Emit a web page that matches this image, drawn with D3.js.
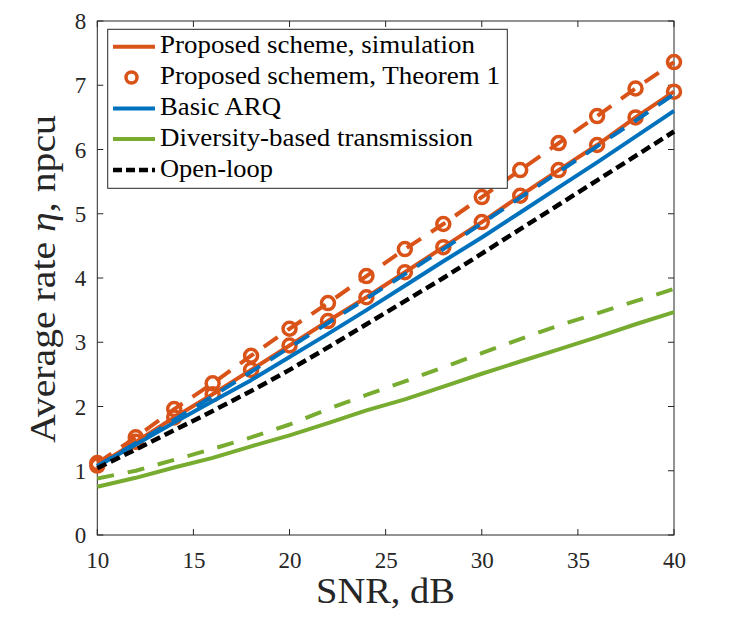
<!DOCTYPE html>
<html><head><meta charset="utf-8">
<script src="https://cdn.jsdelivr.net/npm/d3@7"></script>
<style>html,body{margin:0;padding:0;background:#fff;}svg{display:block;}
svg text{font-family:"Liberation Serif","DejaVu Serif",serif;}</style>
</head><body>
<script>
const snr = [10,12,14,16,18,20,22,24,26,28,30,32,34,36,38,40];
const propSimSolid  = [1.08,1.45,1.83,2.19,2.57,2.95,3.33,3.70,4.09,4.48,4.87,5.28,5.68,6.07,6.50,6.90];
const propSimDashed = [1.12,1.52,1.96,2.36,2.79,3.21,3.61,4.03,4.45,4.84,5.26,5.68,6.10,6.52,6.95,7.36];
const propThSolid   = [1.08,1.45,1.83,2.19,2.57,2.95,3.33,3.70,4.09,4.48,4.87,5.28,5.68,6.07,6.50,6.90];
const propThDashed  = [1.12,1.52,1.96,2.36,2.79,3.21,3.61,4.03,4.45,4.84,5.26,5.68,6.10,6.52,6.95,7.36];
const arqSolid      = [1.07,1.41,1.75,2.08,2.41,2.77,3.13,3.50,3.88,4.26,4.63,5.02,5.41,5.80,6.20,6.60];
const arqDashed     = [1.07,1.43,1.79,2.16,2.54,2.92,3.30,3.68,4.06,4.45,4.85,5.25,5.65,6.05,6.45,6.86];
const divSolid      = [0.75,0.89,1.05,1.20,1.38,1.55,1.74,1.94,2.11,2.31,2.51,2.70,2.89,3.08,3.28,3.47];
const divDashed     = [0.88,1.00,1.17,1.34,1.52,1.72,1.96,2.18,2.39,2.61,2.83,3.05,3.26,3.45,3.64,3.83];
const openLoop      = [1.04,1.33,1.63,1.93,2.24,2.57,2.92,3.28,3.64,4.00,4.38,4.76,5.14,5.52,5.90,6.28];
const xTicks = [10,15,20,25,30,35,40];
const yTicks = [0,1,2,3,4,5,6,7,8];
const legendLabels = ["Proposed scheme, simulation","Proposed schemem, Theorem 1","Basic ARQ","Diversity-based transmission","Open-loop"];

const W=731,H=618;
const ORANGE="#D95319",BLUE="#0072BD",GREEN="#77AC30",BLACK="#000000",AX="#262626";
const L=97.3,R=674,T=21,B=535;
const x=d3.scaleLinear().domain([10,40]).range([L,R]);
const y=d3.scaleLinear().domain([0,8]).range([B,T]);
const svg=d3.select("body").append("svg").attr("width",W).attr("height",H);

const g=svg.append("g");
g.append("rect").attr("x",L).attr("y",T).attr("width",R-L).attr("height",B-T)
 .attr("fill","none").attr("stroke",AX).attr("stroke-width",1);

const tl=6;
const axB=d3.axisBottom(x).tickValues(xTicks).tickSize(0).tickFormat(d3.format("d"));
const gx=svg.append("g").attr("transform",`translate(0,${B})`).call(axB);
gx.attr("font-family",null).attr("font-size",null);
gx.select(".domain").remove();
gx.selectAll("text").style("font-size","23px").attr("fill",AX).attr("dy",0).attr("y",33);
const axL=d3.axisLeft(y).tickValues(yTicks).tickSize(0).tickFormat(d3.format("d"));
const gy=svg.append("g").attr("transform",`translate(${L},0)`).call(axL);
gy.attr("font-family",null).attr("font-size",null);
gy.select(".domain").remove();
gy.selectAll("text").style("font-size","23px").attr("fill",AX).attr("x",-11).attr("dy","0.33em");
xTicks.forEach(v=>{
  g.append("line").attr("x1",x(v)).attr("x2",x(v)).attr("y1",B).attr("y2",B-tl).attr("stroke",AX);
  g.append("line").attr("x1",x(v)).attr("x2",x(v)).attr("y1",T).attr("y2",T+tl).attr("stroke",AX);
});
yTicks.forEach(v=>{
  g.append("line").attr("x1",L).attr("x2",L+tl).attr("y1",y(v)).attr("y2",y(v)).attr("stroke",AX);
  g.append("line").attr("x1",R).attr("x2",R-tl).attr("y1",y(v)).attr("y2",y(v)).attr("stroke",AX);
});

svg.append("text").attr("x",385.5).attr("y",603).attr("text-anchor","middle")
 .style("font-size","36px").attr("fill",AX).attr("textLength",139).attr("lengthAdjust","spacingAndGlyphs").text("SNR, dB");
const yl=svg.append("text").attr("transform",`translate(55,279) rotate(-90)`).attr("text-anchor","middle")
 .style("font-size","36px").attr("fill",AX).attr("textLength",328).attr("lengthAdjust","spacingAndGlyphs");
yl.append("tspan").text("Average rate ");
yl.append("tspan").attr("font-style","italic").text("η");
yl.append("tspan").text(", npcu");

const line=d3.line().x(d=>x(d[0])).y(d=>y(d[1]));
const pts=arr=>snr.map((s,i)=>[s,arr[i]]);
const lw=4;
function drawLine(arr,color,dash,w){
  svg.append("path").datum(pts(arr)).attr("d",line).attr("fill","none")
    .attr("stroke",color).attr("stroke-width",w||lw).attr("stroke-dasharray",dash||null)
    .attr("stroke-linejoin","round");
}
function drawMarkers(arr){
  svg.append("g").selectAll("circle").data(pts(arr)).join("circle")
    .attr("cx",d=>x(d[0])).attr("cy",d=>y(d[1])).attr("r",6.5)
    .attr("fill","none").attr("stroke",ORANGE).attr("stroke-width",3.5);
}
const DASH="17,12";
drawLine(propSimSolid,ORANGE);
drawMarkers(propThSolid);
drawLine(propSimDashed,ORANGE,DASH);
drawMarkers(propThDashed);
drawLine(arqSolid,BLUE);
drawLine(arqDashed,BLUE,DASH);
drawLine(divSolid,GREEN);
drawLine(divDashed,GREEN,"17,14");
drawLine(openLoop,BLACK,"10,5",4.5);

const lg=svg.append("g");
lg.append("rect").attr("x",107.7).attr("y",29.3).attr("width",399.6).attr("height",159)
 .attr("fill","#fff").attr("stroke",AX).attr("stroke-width",1);
const rowsY=[53.3,84,115,145.5,176.5];
const rowW=[315,340,121,313,113];
const styles=[
  {type:"line",color:ORANGE},
  {type:"marker"},
  {type:"line",color:BLUE},
  {type:"line",color:GREEN},
  {type:"line",color:BLACK,dash:"9,4"}
];
legendLabels.forEach((t,i)=>{
  const by=rowsY[i], cy=by-6.5;
  const s=styles[i];
  if(s.type==="line"){
    lg.append("line").attr("x1",113).attr("x2",155).attr("y1",cy).attr("y2",cy)
      .attr("stroke",s.color).attr("stroke-width",s.color===BLACK?4.5:4).attr("stroke-dasharray",s.dash||null);
  } else {
    lg.append("circle").attr("cx",131.5).attr("cy",cy).attr("r",5.5).attr("fill","none")
      .attr("stroke",ORANGE).attr("stroke-width",3.5);
  }
  lg.append("text").attr("x",160).attr("y",by).style("font-size","25px")
    .attr("textLength",rowW[i]).attr("lengthAdjust","spacingAndGlyphs")
    .attr("fill","#000").text(t);
});
</script>
</body></html>
